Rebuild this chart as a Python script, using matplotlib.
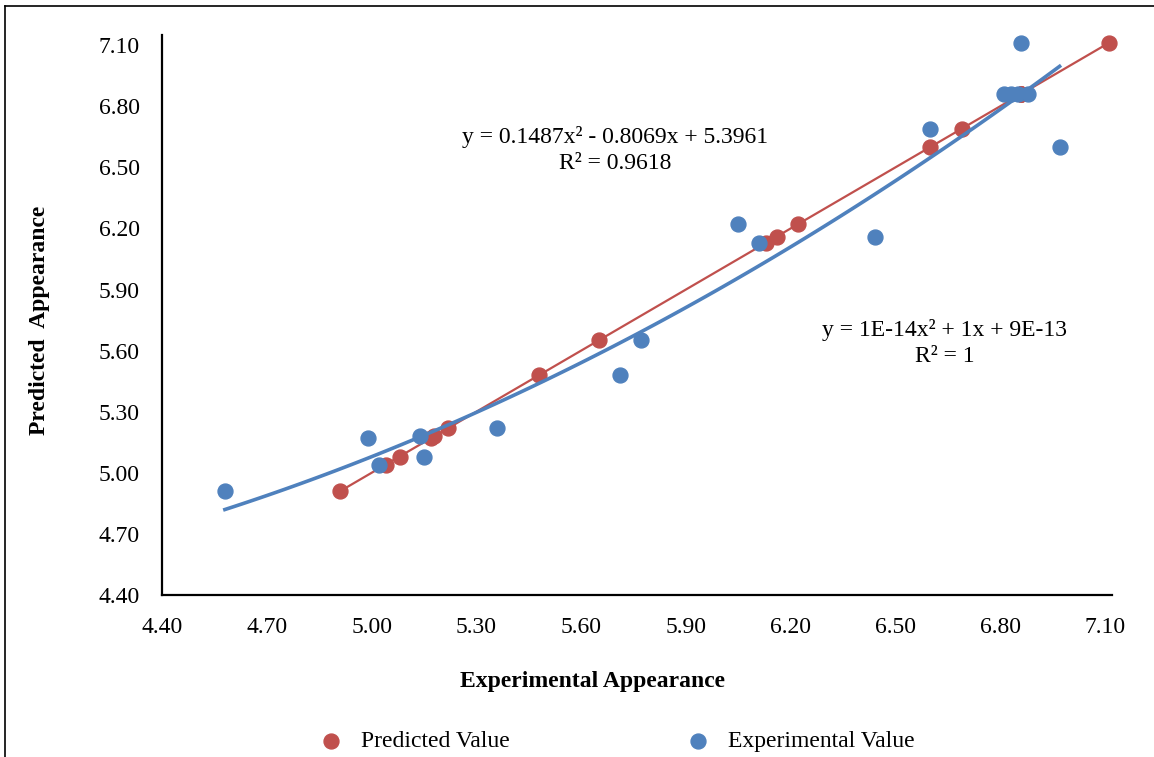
import numpy as np
import matplotlib
matplotlib.use("Agg")
from matplotlib import pyplot as plt
from matplotlib.lines import Line2D

plt.rcParams['font.family'] = ['Liberation Serif', 'DejaVu Serif']

# datos
experimental = [4.58, 4.99, 5.02, 5.14, 5.15, 5.36, 5.71, 5.77, 6.05, 6.11,
                6.44, 6.60, 6.81, 6.83, 6.85, 6.88, 6.86, 6.97]
predicted = [4.91, 5.17, 5.04, 5.18, 5.08, 5.22, 5.48, 5.65, 6.22, 6.13,
             6.16, 6.69, 6.86, 6.86, 6.86, 6.86, 7.11, 6.60]
coef_exp = [0.1487, -0.8069, 5.3961]   # tendencia poli 2 (experimental)
coef_pred = [1e-14, 1.0, 9e-13]        # tendencia poli 2 (predicho)
ticks = [4.40, 4.70, 5.00, 5.30, 5.60, 5.90, 6.20, 6.50, 6.80, 7.10]

red = '#C0504D'
blue = '#4F81BD'
fs = 17

fig = plt.figure(figsize=(11.54, 7.57), dpi=100)
ax = fig.add_axes([0.1404, 0.214, 0.8232, 0.7398])

# predicho vs predicho
ax.scatter(predicted, predicted, s=115, color=red, zorder=3, clip_on=False, label='Predicted Value')
xr = np.linspace(min(predicted), max(predicted), 100)
ax.plot(xr, np.polyval(coef_pred, xr), color=red, lw=1.6, zorder=3, clip_on=False)

# experimental vs predicho
ax.scatter(experimental, predicted, s=115, color=blue, zorder=4, clip_on=False, label='Experimental Value')
xb = np.linspace(min(experimental), max(experimental), 100)
ax.plot(xb, np.polyval(coef_exp, xb), color=blue, lw=2.6, zorder=4)

ax.set_xlim(4.40, 7.12)
ax.set_ylim(4.40, 7.15)
ax.set_xticks(ticks)
ax.set_yticks(ticks)
ax.set_xticklabels(['%.2f' % t for t in ticks])
ax.set_yticklabels(['%.2f' % t for t in ticks])
ax.tick_params(length=0, labelsize=fs)
ax.tick_params(axis='x', pad=16)
ax.tick_params(axis='y', pad=16)
ax.spines['top'].set_visible(False)
ax.spines['right'].set_visible(False)
ax.spines['left'].set_linewidth(1.6)
ax.spines['bottom'].set_linewidth(1.6)

fig.text(40/1154, 1 - 320/757, 'Predicted  Appearance', rotation=90, ha='center', va='center',
         fontsize=fs, fontweight='bold')
fig.text(592/1154, 1 - 681/757, 'Experimental Appearance', ha='center', va='center',
         fontsize=fs, fontweight='bold')

fig.text(615/1154, 1 - 150/757, 'y = 0.1487x² - 0.8069x + 5.3961\nR² = 0.9618',
         ha='center', va='center', fontsize=fs, linespacing=1.3)
fig.text(945/1154, 1 - 343/757, 'y = 1E-14x² + 1x + 9E-13\nR² = 1',
         ha='center', va='center', fontsize=fs, linespacing=1.3)

fig.legend(loc='center', bbox_to_anchor=(611/1154, 1 - 741/757), ncol=2, frameon=False,
           fontsize=fs, columnspacing=6.95, handletextpad=0.3, markerscale=1.0)

# marco de la figura
fig.add_artist(Line2D([5/1154, 5/1154], [0, 1 - 6/757], color='black', lw=1.2))
fig.add_artist(Line2D([5/1154, 1], [1 - 6/757, 1 - 6/757], color='black', lw=1.2))

plt.savefig('out.png', dpi=100)
